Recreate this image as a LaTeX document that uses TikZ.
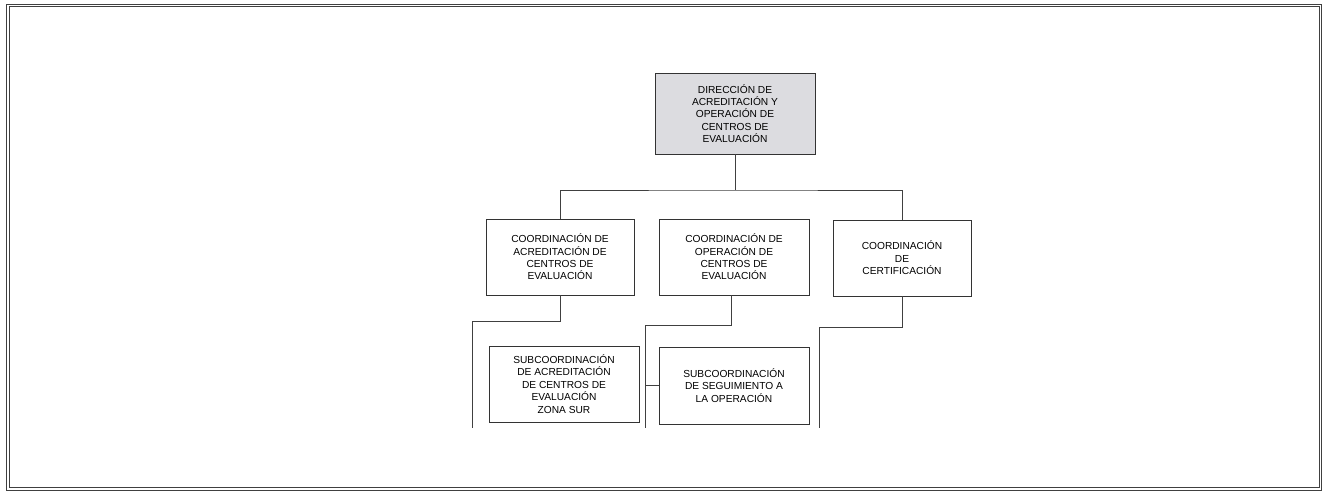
\documentclass[tikz,border=0pt]{standalone}
\usepackage{fontspec}
\setmainfont{Liberation Sans}
\usepackage{tikz}
\usetikzlibrary{positioning}

\begin{document}
\begin{tikzpicture}[x=1pt,y=-1pt, every node/.style={font=\fontsize{10.2}{12.4}\selectfont}, unit/.style={draw=black!80,line width=0.8pt,minimum height=76pt,align=center,inner sep=1pt}, link/.style={draw=black!75,line width=0.6pt}]
\useasboundingbox (0,0) rectangle (1328,496);
\draw[black!75,line width=1pt,double=white,double distance=1.6pt] (8,5.5) rectangle (1320.5,489);
\node[unit,fill=black!4!blue!2!white!88!black,minimum width=160pt,minimum height=81pt] (dir) at (735,113.5) {DIRECCIÓN DE\\ACREDITACIÓN Y\\OPERACIÓN DE\\CENTROS DE\\EVALUACIÓN};
\node[unit,minimum width=148pt] (acr) at (560,257) {COORDINACIÓN DE\\ACREDITACIÓN DE\\CENTROS DE\\EVALUACIÓN};
\node[unit,minimum width=150pt] (ope) at (734,257) {COORDINACIÓN DE\\OPERACIÓN DE\\CENTROS DE\\EVALUACIÓN};
\node[unit,minimum width=138pt] (cer) at (902,258) {COORDINACIÓN\\DE\\CERTIFICACIÓN};
\node[unit,minimum width=150pt] (sur) at (564,384) {SUBCOORDINACIÓN\\DE ACREDITACIÓN\\DE CENTROS DE\\EVALUACIÓN\\ZONA SUR};
\node[unit,minimum width=150pt,minimum height=77pt] (seg) at (734,385.5) {SUBCOORDINACIÓN\\DE SEGUIMIENTO A\\LA OPERACIÓN};
\coordinate (bus) at (735,190);
\coordinate (e1) at (472,428); \coordinate (e2) at (645,428); \coordinate (e3) at (819,428);
\draw[link] (dir.south) -- (bus); \draw[link] (acr.north) |- (bus) -| (cer.north);
\draw[link] (acr.south) -- ++(0,26) -| (e1);
\draw[link] (ope.south -| 731,0) -- ++(0,30) -| (e2);
\draw[link] (seg.west) -- (seg.west -| e2);
\draw[link] (cer.south) -- ++(0,31) -| (e3);
\end{tikzpicture}
\end{document}
